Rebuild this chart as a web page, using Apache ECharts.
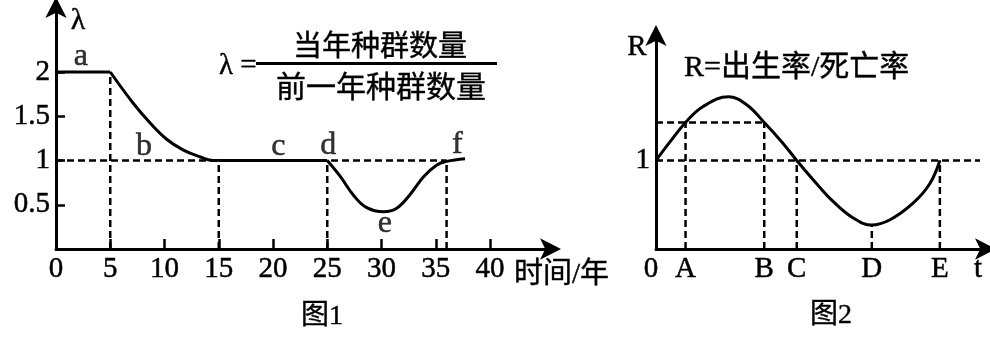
<!DOCTYPE html>
<html><head><meta charset="utf-8">
<script src="https://cdn.jsdelivr.net/npm/echarts@6/dist/echarts.min.js"></script>
<style>html,body{margin:0;padding:0;background:#fff}#c{width:990px;height:338px}</style>
</head><body><div id="c"></div>
<script>
const SERIF = "'Liberation Serif','Noto Sans CJK SC',serif";

// ---- Figure 1 data ----
const fig1XTicks = [5, 10, 15, 20, 25, 30, 35, 40];
const fig1XLabels = [0, 5, 10, 15, 20, 25, 30, 35, 40];
const fig1YLabels = [0.5, 1, 1.5, 2];
const fig1Flat1 = [[0, 2], [5, 2]];
const fig1Decline = [[5, 2], [7.1, 1.65], [8.7, 1.42], [10.2, 1.24], [11.7, 1.12], [13.3, 1.04], [14.5, 1.0], [15, 1]];
const fig1Flat2 = [[15, 1], [25, 1]];
const fig1Dip = [[25, 1], [26.2, 0.82], [27.4, 0.61], [28.6, 0.47], [30.2, 0.42], [31.4, 0.46], [32.6, 0.61], [33.9, 0.82], [35.1, 0.95], [36, 0.99], [37.7, 1.02]];
const fig1GuideX = [5, 15, 25, 36];
const fig1GuideTop = [2, 1, 1, 1];
const fig1HLineY = 1;
const fig1HLineEnd = 36;
const fig1Letters = ['a', 'b', 'c', 'd', 'e', 'f'];
const fig1LetterX = [2.3, 8.1, 20.5, 25.1, 30.3, 37];
const fig1LetterY = [2.17, 1.16, 1.16, 1.17, 0.29, 1.18];

// ---- Figure 2 data ----
const fig2Curve = [[0, 1], [0.42, 1.21], [0.89, 1.43], [1.42, 1.61], [2.18, 1.72], [2.73, 1.63], [3.26, 1.43], [3.79, 1.21], [4.24, 1.0], [4.74, 0.78], [5.34, 0.535], [5.94, 0.35], [6.5, 0.27], [7.05, 0.33], [7.75, 0.52], [8.25, 0.74], [8.55, 1.0]];
const fig2TickVals = [0, 0.89, 3.26, 4.24, 6.5, 8.55, 9.7];
const fig2TickNames = ['0', 'A', 'B', 'C', 'D', 'E', 't'];
const fig2YLabels = [1];
const fig2GuideX = [0.89, 3.26, 4.24, 6.5, 8.55];
const fig2GuideTop = [1.43, 1.43, 1, 0.27, 1];
const fig2HLines = [[1, 9.76], [1.43, 3.26]];

const chart = echarts.init(document.getElementById('c'), null, {renderer: 'canvas'});

const dash = {color: '#000', width: 2.5, type: [7, 4]};
const curveStyle = {color: '#000', width: 3};
const THICK = {textBorderColor: '#000', textBorderWidth: 0.5};

function lineSeries(data, idx, style, smooth) {
  return {type: 'line', xAxisIndex: idx, yAxisIndex: idx, data: data, showSymbol: false, symbol: 'none',
    smooth: smooth || false, lineStyle: style, silent: true, animation: false, z: style === dash ? 2 : 3};
}

const series = [];
series.push(lineSeries([[0, fig1HLineY], [fig1HLineEnd, fig1HLineY]], 0, dash));
fig1GuideX.forEach((x, i) => series.push(lineSeries([[x, 0], [x, fig1GuideTop[i]]], 0, dash)));
series.push(lineSeries(fig1Flat1, 0, curveStyle));
series.push(lineSeries(fig1Decline, 0, curveStyle, 0.4));
series.push(lineSeries(fig1Flat2, 0, curveStyle));
series.push(lineSeries(fig1Dip, 0, curveStyle, 0.4));
series.push({type: 'scatter', xAxisIndex: 0, yAxisIndex: 0, symbolSize: 0, itemStyle: {color: '#000'},
  data: fig1Letters.map((t, i) => ({value: [fig1LetterX[i], fig1LetterY[i]], name: t})),
  label: Object.assign({show: true, position: 'inside', formatter: p => p.name, color: '#000', fontFamily: SERIF, fontSize: 32}, THICK),
  silent: true, animation: false, z: 5});
fig2HLines.forEach(h => series.push(lineSeries([[0, h[0]], [h[1], h[0]]], 1, dash)));
fig2GuideX.forEach((x, i) => series.push(lineSeries([[x, 0], [x, fig2GuideTop[i]]], 1, dash)));
series.push(lineSeries(fig2Curve, 1, curveStyle, 0.4));

const axisLineStyle = {show: true, symbol: ['none', 'arrow'], symbolSize: [16, 21], symbolOffset: [0, 8],
  lineStyle: {color: '#000', width: 3}};
const labelBase = Object.assign({color: '#000', fontFamily: SERIF, fontSize: 29}, THICK);

function txt(x, y, text, size, align, fam) {
  return {type: 'text', x: x, y: y, style: {text: text, font: size + 'px ' + (fam || SERIF), fill: '#000',
    align: align, verticalAlign: 'middle', stroke: '#000', lineWidth: 0.4}};
}

const option = {
  backgroundColor: '#fff',
  animation: false,
  grid: [
    {left: 56, top: 5, width: 497, height: 244},
    {left: 656, top: 33, width: 332, height: 216}
  ],
  xAxis: [
    {type: 'value', gridIndex: 0, min: 0, max: 497 / 10.85, splitLine: {show: false},
      axisLine: axisLineStyle,
      axisTick: {show: true, inside: true, length: 10, lineStyle: {color: '#000', width: 2.5}, customValues: fig1XTicks},
      axisLabel: Object.assign({margin: 6, customValues: fig1XLabels}, labelBase)},
    {type: 'value', gridIndex: 1, min: 0, max: 10, splitLine: {show: false},
      axisLine: axisLineStyle,
      axisTick: {show: false},
      axisLabel: Object.assign({margin: 6, customValues: fig2TickVals,
        formatter: v => { const i = fig2TickVals.indexOf(v); const n = i >= 0 ? fig2TickNames[i] : ''; return n === '0' ? '{z|0}' : n; },
        rich: {z: Object.assign({fontFamily: SERIF, fontSize: 29, color: '#000', padding: [0, 10, 0, 0]}, THICK)}}, labelBase)}
  ],
  yAxis: [
    {type: 'value', gridIndex: 0, min: 0, max: 244 / 88.5, splitLine: {show: false},
      axisLine: axisLineStyle,
      axisTick: {show: true, inside: true, length: 9, lineStyle: {color: '#000', width: 2.5}, customValues: fig1YLabels},
      axisLabel: Object.assign({margin: 6, customValues: fig1YLabels}, labelBase)},
    {type: 'value', gridIndex: 1, min: 0, max: 216 / 88.5, splitLine: {show: false},
      axisLine: axisLineStyle,
      axisTick: {show: false},
      axisLabel: Object.assign({margin: 6, customValues: fig2YLabels}, labelBase)}
  ],
  graphic: [
    txt(78, 21, 'λ', 30, 'center'),
    txt(219, 66, 'λ =', 29, 'left'),
    {type: 'line', shape: {x1: 256, y1: 63.5, x2: 497, y2: 63.5}, style: {stroke: '#000', lineWidth: 3}},
    txt(380, 45, '当年种群数量', 29, 'center', '"Noto Sans CJK SC"'),
    txt(381, 86, '前一年种群数量', 30, 'center', '"Noto Sans CJK SC"'),
    txt(514, 275, '时间/年', 29, 'left'),
    txt(322, 317, '图1', 28, 'center'),
    txt(637, 47, 'R', 29, 'center'),
    txt(684, 68, 'R=出生率/死亡率', 30, 'left'),
    txt(831, 316, '图2', 28, 'center')
  ],
  series: series
};
chart.setOption(option);
</script>
</body></html>
